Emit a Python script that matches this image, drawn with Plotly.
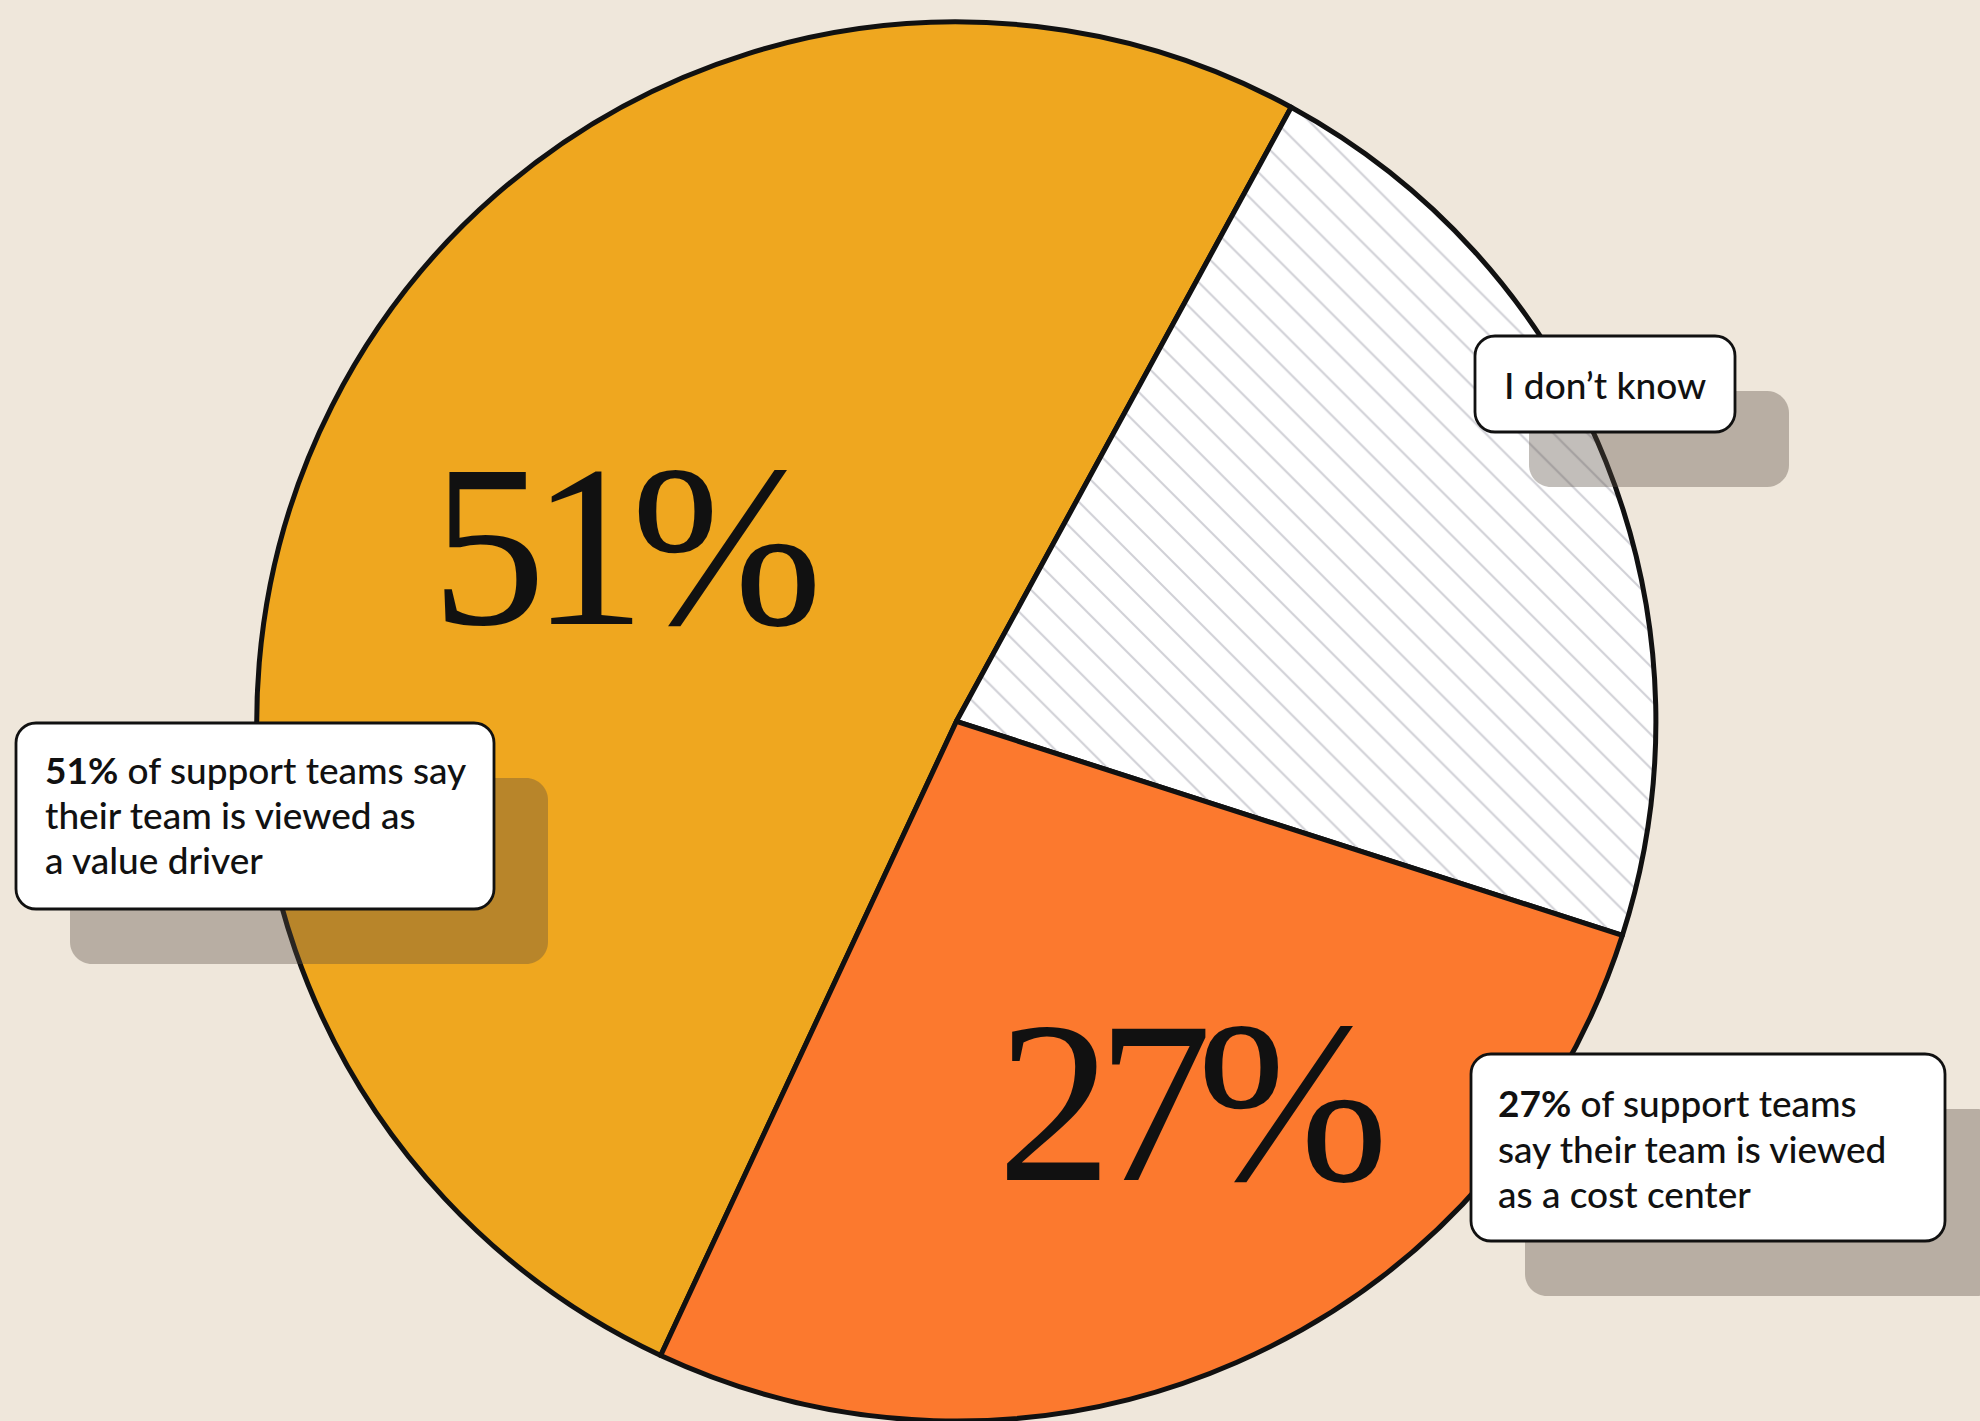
import plotly.graph_objects as go

# Canvas size in pixels
W, H = 1980, 1421

# ---- data -------------------------------------------------------------
categories = ["Value driver", "I don’t know", "Cost center"]
shares = [51, 22, 27]

callout_dont_know = ["I don’t know"]
callout_value = ["<b>51%</b> of support teams say", "their team is viewed as", "a value driver"]
callout_cost = ["<b>27%</b> of support teams", "say their team is viewed", "as a cost center"]

# ---- styling ----------------------------------------------------------
BG = "#EFE7DB"
INK = "#111111"
slice_colors = ["#EFA71F", "#FFFFFF", "#FC792E"]
slice_patterns = ["", "\\", ""]
SHADOW = "rgba(85,75,65,0.36)"
SANS = "Lato"
SERIF = "Liberation Serif"


def px(x):
    return x / W


def py(y):
    return 1 - y / H


def rounded_rect(x0, y0, x1, y1, r):
    """SVG path of a rounded rectangle, given in pixels, expressed in paper units."""
    k = 0.5523 * r
    pts = [
        ("M", [(x0 + r, y0)]),
        ("L", [(x1 - r, y0)]),
        ("C", [(x1 - r + k, y0), (x1, y0 + r - k), (x1, y0 + r)]),
        ("L", [(x1, y1 - r)]),
        ("C", [(x1, y1 - r + k), (x1 - r + k, y1), (x1 - r, y1)]),
        ("L", [(x0 + r, y1)]),
        ("C", [(x0 + r - k, y1), (x0, y1 - r + k), (x0, y1 - r)]),
        ("L", [(x0, y0 + r)]),
        ("C", [(x0, y0 + r - k), (x0 + r - k, y0), (x0 + r, y0)]),
    ]
    parts = []
    for cmd, coords in pts:
        parts.append(cmd + " " + " ".join(f"{px(a):.6f},{py(b):.6f}" for a, b in coords))
    return " ".join(parts) + " Z"


fig = go.Figure(
    go.Pie(
        labels=categories,
        values=shares,
        sort=False,
        direction="clockwise",
        rotation=205,
        marker=dict(
            colors=slice_colors,
            line=dict(color=INK, width=5),
            pattern=dict(
                shape=slice_patterns,
                fillmode="overlay",
                fgcolor="#A2A2AD",
                size=24,
                solidity=0.085,
            ),
        ),
        textinfo="none",
        hoverinfo="skip",
        showlegend=False,
        domain=dict(x=[0.123, 0.843], y=[0.0, 0.9846]),
    )
)

shapes = []
annotations = []

# Callout boxes: (lines, box in px, text left, first baseline, line step)
callouts = [
    (callout_dont_know, (1475, 336, 1735, 432), 1502, 399, 45),
    (callout_value, (16, 723, 494, 909), 43, 784, 45),
    (callout_cost, (1471, 1054, 1945, 1241), 1496, 1117, 45.5),
]
SHADOW_DX, SHADOW_DY = 54, 55
TEXT_SIZE = 37

for lines, (x0, y0, x1, y1), tx, base, step in callouts:
    shapes.append(dict(
        type="path", xref="paper", yref="paper", layer="above",
        path=rounded_rect(x0 + SHADOW_DX, y0 + SHADOW_DY, x1 + SHADOW_DX, y1 + SHADOW_DY, 22),
        fillcolor=SHADOW, line=dict(width=0),
    ))
    shapes.append(dict(
        type="path", xref="paper", yref="paper", layer="above",
        path=rounded_rect(x0, y0, x1, y1, 20),
        fillcolor="#FFFFFF", line=dict(color=INK, width=2.8),
    ))
    for i, line in enumerate(lines):
        b = base + i * step
        annotations.append(dict(
            text=line, xref="paper", yref="paper",
            x=px(tx), y=py(b - 0.387 * TEXT_SIZE),
            xanchor="left", yanchor="middle", showarrow=False,
            font=dict(family=SANS, size=TEXT_SIZE, color=INK, weight=500),
        ))

# Large serif percentages inside the two main slices, set with tight tracking
BIG = 230
TRACKING = -15


def big_label(value, cx, baseline):
    annotations.append(dict(
        text=f'<span style="letter-spacing:{TRACKING}px">{value}%</span>',
        xref="paper", yref="paper",
        x=px(cx), y=py(baseline - 0.3375 * BIG),
        xanchor="center", yanchor="middle", showarrow=False,
        font=dict(family=SERIF, size=BIG, color=INK),
    ))


big_label(shares[0], 623, 624)
big_label(shares[2], 1189, 1180)

fig.update_layout(
    width=W, height=H,
    margin=dict(l=0, r=0, t=0, b=0),
    paper_bgcolor=BG, plot_bgcolor=BG,
    shapes=shapes, annotations=annotations,
)

fig.write_html("out.html")
